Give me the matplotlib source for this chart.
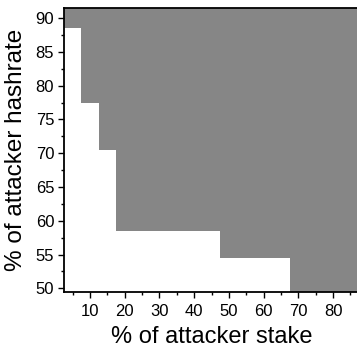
import matplotlib
matplotlib.use("Agg")
import matplotlib.pyplot as plt
import numpy as np
from matplotlib.colors import ListedColormap
from matplotlib.ticker import MultipleLocator

# attacker stake (%) grid, cell centres
stake = [5, 10, 15, 20, 25, 30, 35, 40, 45, 50, 55, 60, 65, 70, 75, 80, 85]
# minimum attacker hashrate (%) at which attack succeeds for each stake
min_hashrate = [89, 78, 71, 59, 59, 59, 59, 59, 59, 55, 55, 55, 55, 50, 50, 50, 50]
# hashrate grid, cell centres
hashrate = list(range(50, 92))

plt.rcParams['font.family'] = ['Liberation Sans', 'DejaVu Sans']

x = np.array(stake)
y = np.array(hashrate)
z = (y[:, None] >= np.array(min_hashrate)[None, :]).astype(int)

fig = plt.figure(figsize=(3.57, 3.5), dpi=100)
ax = fig.add_axes([0.179, 0.1666, 0.827, 0.8104])

ax.pcolormesh(x, y, z, shading='nearest',
              cmap=ListedColormap(['white', '#868686']), vmin=0, vmax=1)

ax.set_xlim(2.5, 87.5)
ax.set_ylim(49.5, 91.5)
ax.xaxis.set_major_locator(MultipleLocator(10))
ax.xaxis.set_minor_locator(MultipleLocator(5))
ax.yaxis.set_major_locator(MultipleLocator(5))
ax.yaxis.set_minor_locator(MultipleLocator(2.5))
ax.tick_params(which='both', direction='out', labelsize=12, width=1)
ax.tick_params(which='major', length=4)
ax.tick_params(which='minor', length=2.5)
ax.tick_params(axis='x', pad=5)
ax.tick_params(axis='y', pad=3)
for s in ax.spines.values():
    s.set_linewidth(1.3)

ax.set_xlabel('% of attacker stake', fontsize=17, labelpad=5)
ax.set_ylabel('% of attacker hashrate', fontsize=17.5, labelpad=6)

fig.savefig('out.png', dpi=100)
